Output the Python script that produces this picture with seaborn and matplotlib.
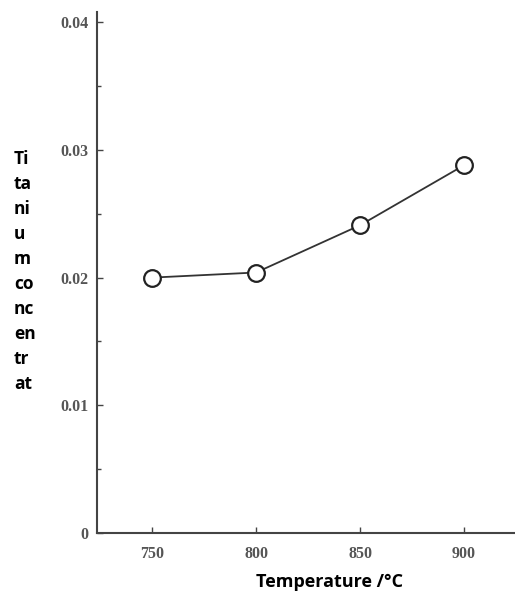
import matplotlib
matplotlib.use("Agg")
import matplotlib.pyplot as plt
import seaborn as sns
import pandas as pd
from matplotlib.ticker import MultipleLocator

temperature = [750, 800, 850, 900]
ti_conc = [0.0200, 0.0204, 0.0241, 0.0288]
x_ticks = [750, 800, 850, 900]
y_ticks = [0, 0.01, 0.02, 0.03, 0.04]
y_tick_labels = ["0", "0.01", "0.02", "0.03", "0.04"]
ylabel_chunks = ["Ti", "ta", "ni", "u", "m", "co", "nc", "en", "tr", "at"]
xlabel = "Temperature /°C"

sns.set_theme(style="white")
plt.rcParams["font.family"] = ["DejaVu Sans"]

df = pd.DataFrame({"T": temperature, "C": ti_conc})

fig = plt.figure(figsize=(5.15, 5.98), dpi=100)
ax = fig.add_axes([97/515, 1 - 533/598, 1 - 97/515, (533 - 12)/598])

sns.lineplot(data=df, x="T", y="C", ax=ax, color="#333333", linewidth=1.3,
             marker="o", markersize=12, markerfacecolor="white",
             markeredgecolor="#222222", markeredgewidth=1.6)

ax.set_xlim(723.5, 924.5)
ax.set_ylim(0, 0.0408)
ax.set_xticks(x_ticks)
ax.set_xticklabels([str(v) for v in x_ticks])
ax.set_yticks(y_ticks)
ax.set_yticklabels(y_tick_labels)
ax.yaxis.set_minor_locator(MultipleLocator(0.005))

for lab in ax.get_xticklabels() + ax.get_yticklabels():
    lab.set_family("Liberation Serif")
    lab.set_fontsize(11.5)
    lab.set_fontweight("bold")
    lab.set_color("#555555")

ax.tick_params(axis="both", which="major", direction="in", length=4, width=1,
               color="#444444", pad=6, left=True, bottom=True)
ax.tick_params(axis="y", which="minor", direction="in", length=3, width=1,
               color="#444444", left=True)
ax.tick_params(axis="x", pad=9)

for s in ["top", "right"]:
    ax.spines[s].set_visible(False)
for s in ["left", "bottom"]:
    ax.spines[s].set_color("#444444")
    ax.spines[s].set_linewidth(1.5)

ax.set_xlabel("")
ax.set_ylabel("")

fig.text(330/515, 1 - 582/598, xlabel, ha="center", va="center",
         fontsize=13, fontweight="bold", family=["Open Sans", "DejaVu Sans"],
         color="black")
fig.text(14/515, 1 - 150/598, "\n".join(ylabel_chunks), ha="left", va="top",
         fontsize=12.5, fontweight="bold", family=["Open Sans", "DejaVu Sans"],
         color="black", linespacing=1.5)

fig.savefig("out.png", dpi=100)
